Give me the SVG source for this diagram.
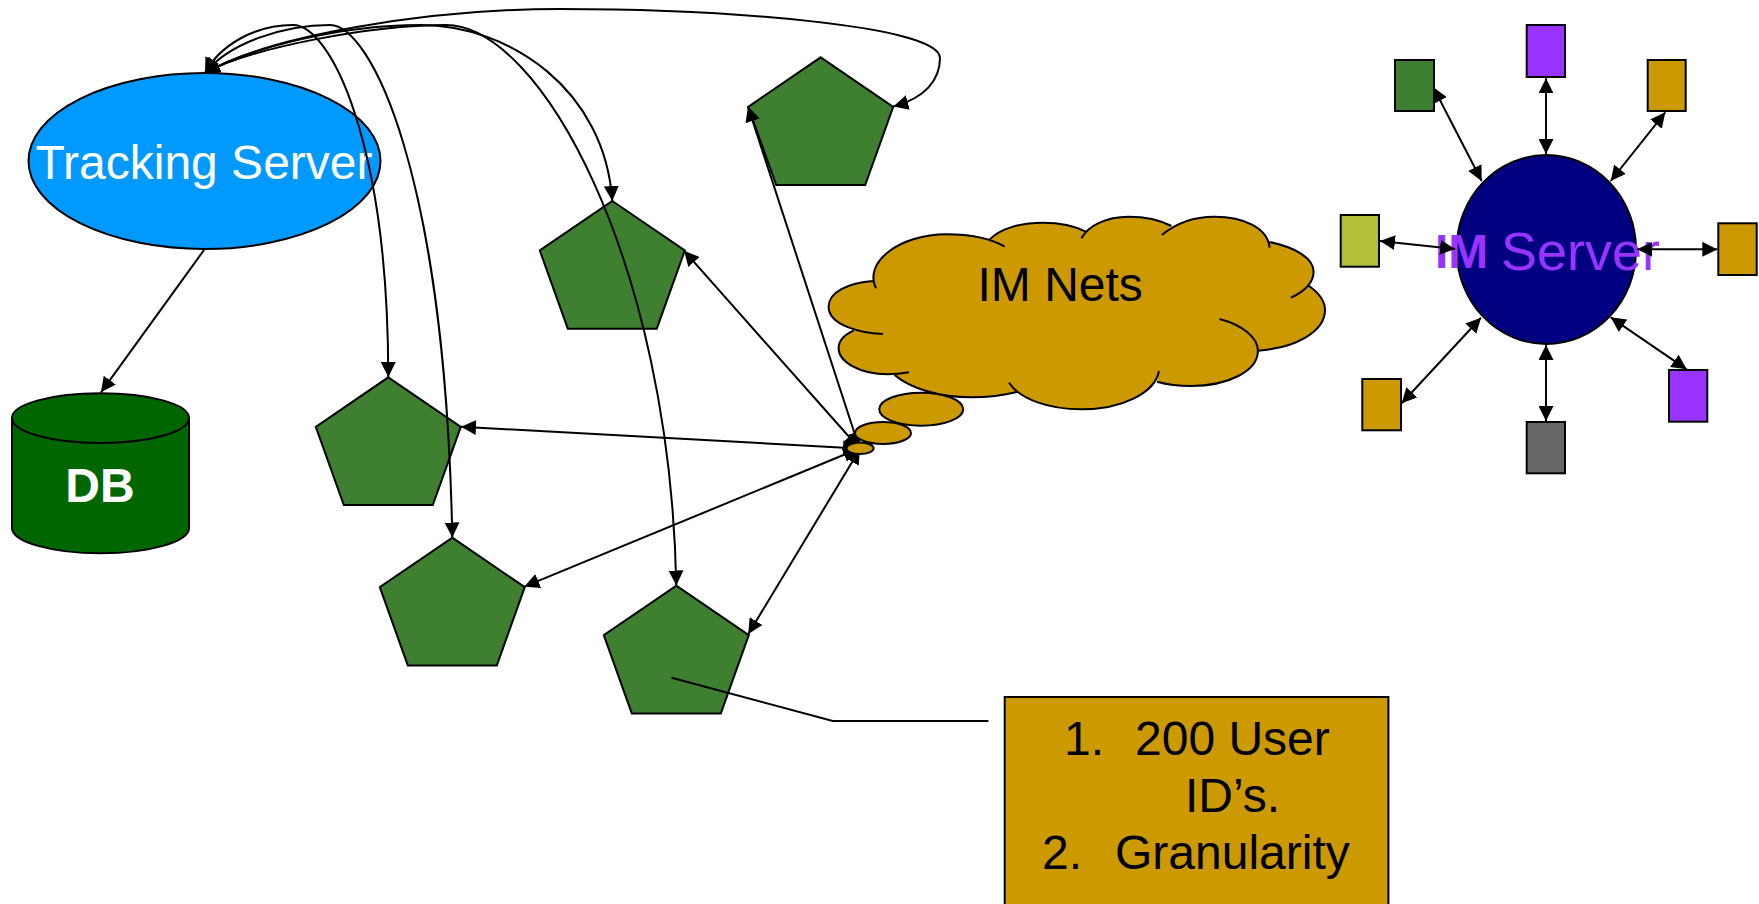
<svg xmlns="http://www.w3.org/2000/svg" width="1759" height="904" viewBox="0 0 1759 904">
<style>
text{font-family:"Liberation Sans",Arial,sans-serif;font-size:48px}
.s{stroke:#000;stroke-width:2}
.p{fill:#3e8030;stroke:#000;stroke-width:2;stroke-linejoin:miter}
.c{fill:none;stroke:#000;stroke-width:2;marker-start:url(#a);marker-end:url(#a)}
.e{fill:none;stroke:#000;stroke-width:2;marker-end:url(#a)}
.l{fill:none;stroke:#000;stroke-width:2}
.gold{fill:#cc9900}
</style>
<defs>
<marker id="a" markerUnits="userSpaceOnUse" markerWidth="15" markerHeight="15" refX="15" refY="7.5" orient="auto-start-reverse"><path d="M0 0L15 7.5L0 15Z" fill="#000"/></marker>
<path id="pent" d="M0 0L72.5 49.5L44.5 127.7H-44.5L-72.5 49.5Z"/>
</defs>
<rect width="1759" height="904" fill="#fff"/>
<g id="tracking-server"><ellipse cx="204.5" cy="161" rx="176" ry="88" fill="#0099ff" class="s"/><text x="204" y="179" text-anchor="middle" fill="#fff">Tracking Server</text></g>
<g id="db"><path d="M12 418C12 404 52 393.3 100.5 393.3S189 404 189 418V528C189 542 149 553.3 100.5 553.3S12 542 12 528Z" fill="#006600" class="s"/><path d="M12 418C12 432 52 443 100.5 443S189 432 189 418" fill="none" class="s"/><text x="100" y="501.7" text-anchor="middle" fill="#fff" font-weight="bold">DB</text></g>
<g id="peer-1"><use href="#pent" x="820.7" y="57.3" class="p"/></g>
<g id="peer-2"><use href="#pent" x="612.3" y="201" class="p"/></g>
<g id="peer-3"><use href="#pent" x="388.3" y="377.3" class="p"/></g>
<g id="peer-4"><use href="#pent" x="452.3" y="537.7" class="p"/></g>
<g id="peer-5"><use href="#pent" x="676.3" y="585.7" class="p"/></g>
<g id="im-server"><ellipse cx="1546.3" cy="249.5" rx="89.7" ry="94.5" fill="#000080" class="s"/><text x="1435" y="268" fill="#9933ff" font-weight="bold">IM</text><text x="1501" y="270" fill="#9933ff" style="font-size:54px">Server</text></g>
<g id="client-1"><rect x="1395" y="60" width="39" height="51" fill="#3e8030" class="s"/></g>
<g id="client-2"><rect x="1526.7" y="25" width="38.3" height="52" fill="#9933ff" class="s"/></g>
<g id="client-3"><rect x="1647.7" y="60" width="38" height="51" class="gold s"/></g>
<g id="client-4"><rect x="1340.7" y="215" width="38.3" height="51.7" fill="#b2c038" class="s"/></g>
<g id="client-5"><rect x="1718.3" y="223.3" width="38.4" height="51.7" class="gold s"/></g>
<g id="client-6"><rect x="1669" y="370" width="38.3" height="51.7" fill="#9933ff" class="s"/></g>
<g id="client-7"><rect x="1526.7" y="422" width="38.3" height="51.3" fill="#666666" class="s"/></g>
<g id="client-8"><rect x="1362.3" y="379" width="38.7" height="51.3" class="gold s"/></g>
<g id="callout"><rect x="1004.7" y="697" width="383.7" height="220" class="gold s"/><text x="1064" y="755">1.</text><text x="1135" y="755">200 User</text><text x="1185" y="812">ID’s.</text><text x="1042" y="869">2.</text><text x="1115" y="869">Granularity</text></g>
<g id="connectors">
<path class="c" d="M205 73C220 45 255 25 293 25C330 25 388 140 388.3 377"/>
<path class="c" d="M205 73C230 42 285 25 330 25C370 25 445 170 452.3 537.5"/>
<path class="c" d="M205 73C250 48 340 25 420 25C510 25 605 90 612.3 201"/>
<path class="c" d="M205 73C250 48 370 25 446 25C540 25 670 260 676.3 585.5"/>
<path class="c" d="M205 73C270 35 430 9 560 9C720 9 940 25 940 58C940 80 925 98 893.3 106.5"/>
<path class="e" d="M204 250L101 392.3"/>
<path class="c" d="M461 426.7L858 448.5"/>
<path class="c" d="M524.3 586.7L858 449"/>
<path class="c" d="M748.3 634L860 449"/>
<path class="c" d="M684 250.7L859 448"/>
<path class="c" d="M748 106.6L859 447"/>
<path class="l" d="M671.5 677.7L832.8 721H988.4"/>
<path class="c" d="M1433.3 87.3L1481.7 181"/>
<path class="c" d="M1546 78.3V154"/>
<path class="c" d="M1665.3 112.3L1610.7 181"/>
<path class="c" d="M1380 241L1455 249"/>
<path class="c" d="M1637.3 249.3H1717.3"/>
<path class="c" d="M1610.7 317.3L1686.7 369.3"/>
<path class="c" d="M1546 345V421"/>
<path class="c" d="M1481 317.7L1401.7 403.3"/>
</g>
<g id="im-nets">
<path class="gold" d="M882.9 334C860 333 828.6 325 828.6 306.7C828.6 292 848 283 873.2 281L876 288.3C863 262 900 234.3 946.4 234.3C970 234.3 990 238 1004.6 246.7L989.3 240C1000 228 1022 222.7 1042.9 222.7C1060 222.7 1075 226 1085.7 231.7L1081.4 238.3C1088 226 1106 216.7 1128.6 216.7C1146 216.7 1160 220 1171.4 226L1161.8 235C1175 224 1192 216.7 1214.3 216.7C1244 216.7 1268 228 1269.6 247.7L1267.9 241.7C1295 247 1313.6 258 1313.6 271.7C1313.6 282 1305 291 1291 297.7L1309 286C1319 293 1325 301 1325 310C1325 332 1295 348 1257.9 350.7L1219.6 319C1242 325 1257.9 337 1257.9 351C1257.9 371 1228 386 1191 386C1178 386 1167 384.5 1157 381.7L1159 371C1155 393 1122 409.3 1082 409.3C1048 409.3 1020 399 1009 382.7L1017.9 391.7C1003 395.5 988 397.3 971.4 397.3C938 397.3 910 388 894.6 375L908.9 372.3C900 374 894 374.3 887.5 374.3C860 374.3 838.6 362 838.6 348.3C838.6 341 844 335 853.6 330.7Z"/>
<path class="l" d="M882.9 334C860 333 828.6 325 828.6 306.7C828.6 292 848 283 873.2 281M876 288.3C863 262 900 234.3 946.4 234.3C970 234.3 990 238 1004.6 246.7M989.3 240C1000 228 1022 222.7 1042.9 222.7C1060 222.7 1075 226 1085.7 231.7M1081.4 238.3C1088 226 1106 216.7 1128.6 216.7C1146 216.7 1160 220 1171.4 226M1161.8 235C1175 224 1192 216.7 1214.3 216.7C1244 216.7 1268 228 1269.6 247.7M1267.9 241.7C1295 247 1313.6 258 1313.6 271.7C1313.6 282 1305 291 1291 297.7M1309 286C1319 293 1325 301 1325 310C1325 332 1295 348 1257.9 350.7M1219.6 319C1242 325 1257.9 337 1257.9 351C1257.9 371 1228 386 1191 386C1178 386 1167 384.5 1157 381.7M1159 371C1155 393 1122 409.3 1082 409.3C1048 409.3 1020 399 1009 382.7M1017.9 391.7C1003 395.5 988 397.3 971.4 397.3C938 397.3 910 388 894.6 375M908.9 372.3C900 374 894 374.3 887.5 374.3C860 374.3 838.6 362 838.6 348.3C838.6 341 844 335 853.6 330.7"/>
<ellipse cx="921.2" cy="409.2" rx="42" ry="16.5" class="gold s"/>
<ellipse cx="883" cy="433" rx="28" ry="11" class="gold s"/>
<ellipse cx="860" cy="448.3" rx="13.6" ry="5.7" class="gold s"/>
<text x="977.5" y="300.7">IM Nets</text>
</g>
</svg>
